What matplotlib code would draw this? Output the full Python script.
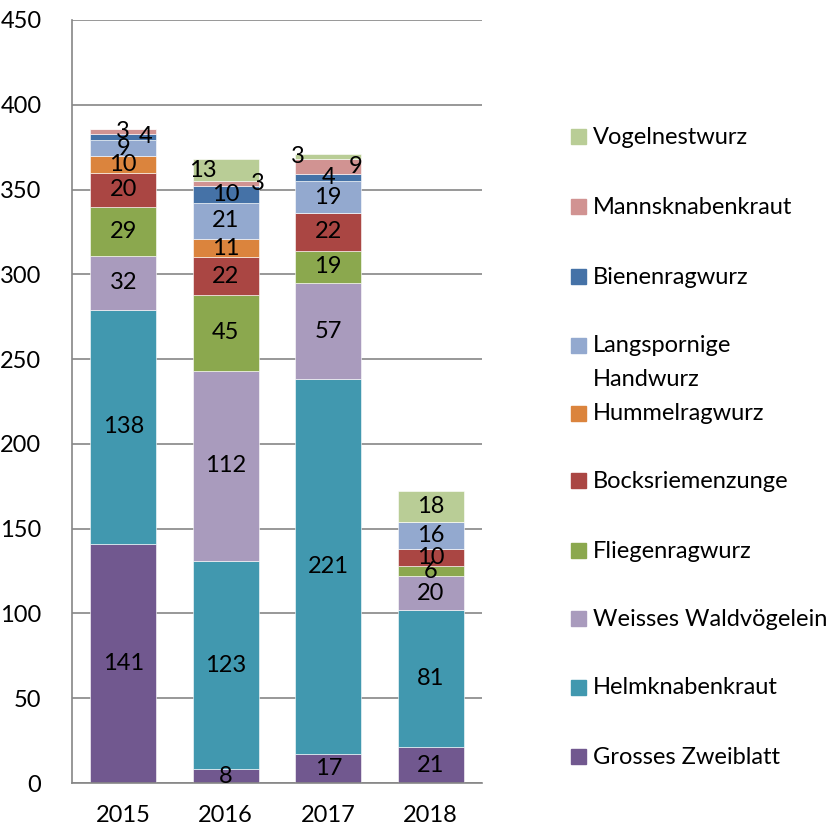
import numpy as np
import matplotlib
matplotlib.use("Agg")
import matplotlib.pyplot as plt
from matplotlib.patches import Rectangle

plt.rcParams['font.family'] = ['Lato', 'DejaVu Sans']

years = ['2015', '2016', '2017', '2018']
# stacked from bottom to top
species = ['Grosses Zweiblatt', 'Helmknabenkraut', 'Weisses Waldvögelein',
           'Fliegenragwurz', 'Bocksriemenzunge', 'Hummelragwurz',
           'Langspornige\nHandwurz', 'Bienenragwurz', 'Mannsknabenkraut',
           'Vogelnestwurz']
zweiblatt = [141, 8, 17, 21]
helm = [138, 123, 221, 81]
waldvoegelein = [32, 112, 57, 20]
fliegen = [29, 45, 19, 6]
bocks = [20, 22, 22, 10]
hummel = [10, 11, 0, 0]
langsporn = [9, 21, 19, 16]
bienen = [4, 10, 4, 0]
manns = [3, 3, 9, 0]
vogel = [0, 13, 3, 18]
series = [zweiblatt, helm, waldvoegelein, fliegen, bocks, hummel,
          langsporn, bienen, manns, vogel]
colors = ['#71588F', '#4198AF', '#A99BBD', '#8BA84E', '#AA4643',
          '#DB843D', '#93A9CF', '#4572A7', '#D19392', '#B9CD96']

FS = 17

# label shifts (pixels) where the segments are too thin
shift = {(0, 7): 22, (1, 9): -23, (1, 8): 32, (2, 9): -30, (2, 8): 27}

fig = plt.figure(figsize=(8.36, 8.27), dpi=100)
ax = fig.add_axes([72/836, 1-783/827, 410/836, 763/827])

x = np.arange(len(years))
bottom = np.zeros(len(years))
for k, (vals, c) in enumerate(zip(series, colors)):
    vals = np.array(vals, dtype=float)
    ax.bar(x, vals, 0.645, bottom=bottom, color=c, zorder=2,
           edgecolor='white', linewidth=0.4)
    for i, v in enumerate(vals):
        if v > 0:
            ax.annotate(f'{int(v)}', (x[i], bottom[i] + v / 2),
                        xytext=(shift.get((i, k), 0), 0),
                        textcoords='offset pixels',
                        ha='center', va='center', fontsize=FS, zorder=3)
    bottom += vals

ax.set_xlim(-0.5, 3.5)
ax.set_ylim(0, 450)
ax.set_yticks(np.arange(0, 451, 50))
ax.set_xticks(x)
ax.set_xticklabels(years)
ax.yaxis.grid(True, color='#868686', linewidth=1.2, zorder=0)
ax.set_axisbelow(True)
for s in ['top', 'right']:
    ax.spines[s].set_visible(False)
for s in ['left', 'bottom']:
    ax.spines[s].set_color('#868686')
    ax.spines[s].set_linewidth(1.2)
ax.tick_params(axis='y', length=0, labelsize=FS, pad=22)
ax.tick_params(axis='x', length=0, labelsize=FS, pad=16)

# legend, top entry first
slots = [137, 207, 277, 346, 414, 481, 551, 619, 688, 757]
for k, y in zip(range(len(species) - 1, -1, -1), slots):
    yc = 1 - y / 827
    fig.patches.append(Rectangle((571/836, yc - 7/827), 15/836, 15/827,
                                 transform=fig.transFigure,
                                 color=colors[k], figure=fig))
    for j, line in enumerate(species[k].split('\n')):
        fig.text(593/836, yc - j * 33/827, line, fontsize=FS,
                 va='center', ha='left')

fig.savefig('out.png', dpi=100)
